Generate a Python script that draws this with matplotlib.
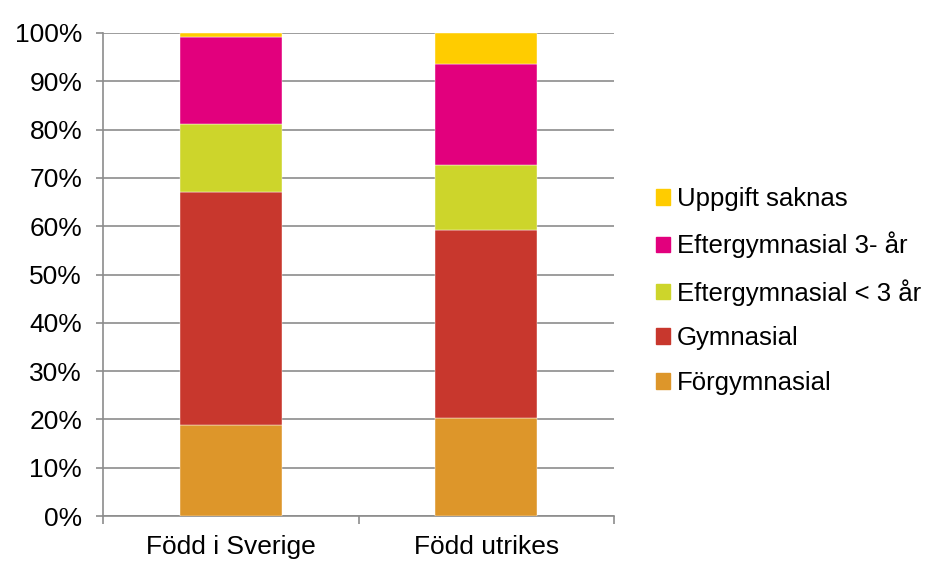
import numpy as np
import matplotlib.pyplot as plt
from matplotlib.patches import Patch

plt.rcParams['font.family'] = ['Liberation Sans', 'DejaVu Sans']

categories = ['Född i Sverige', 'Född utrikes']
series = ['Förgymnasial', 'Gymnasial', 'Eftergymnasial < 3 år',
          'Eftergymnasial 3- år', 'Uppgift saknas']
forgymnasial = [18.8, 20.2]
gymnasial = [48.3, 39.1]
efter_kort = [14.0, 13.4]
efter_lang = [18.1, 20.9]
saknas = [0.8, 6.4]
colors = ['#DD962A', '#C8372D', '#CDD52B', '#E2007D', '#FFCC00']

values = [forgymnasial, gymnasial, efter_kort, efter_lang, saknas]
fs = 19

fig = plt.figure(figsize=(9.31, 5.61), dpi=100)
ax = fig.add_axes([103 / 931, 1 - 516 / 561, 511 / 931, 483 / 561])

x = np.arange(len(categories))
bottom = np.zeros(len(categories))
for name, vals, c in zip(series, values, colors):
    ax.bar(x, vals, width=0.4, bottom=bottom, color=c, label=name,
           edgecolor='white', linewidth=0.3, zorder=3)
    bottom += np.array(vals)

ax.set_xlim(-0.5, 1.5)
ax.set_ylim(0, 100)
ax.set_yticks(np.arange(0, 101, 10))
ax.set_yticklabels([f'{v}%' for v in range(0, 101, 10)])
ax.yaxis.grid(True, color='#8c8c8c', linewidth=1.2, zorder=0)
ax.set_xticks(x)
ax.set_xticklabels(categories)
ax.set_xticks([-0.5, 0.5, 1.5], minor=True)
ax.tick_params(axis='x', which='major', length=0, pad=14)
ax.tick_params(axis='x', which='minor', length=6, color='#8c8c8c', width=1.2)
ax.tick_params(axis='y', length=5, color='#8c8c8c', width=1.2, pad=10)
ax.tick_params(labelsize=fs)
for s in ['top', 'right']:
    ax.spines[s].set_visible(False)
for s in ['left', 'bottom']:
    ax.spines[s].set_color('#8c8c8c')
    ax.spines[s].set_linewidth(1.2)

handles = [Patch(color=c, label=n) for n, c in zip(series, colors)][::-1]
fig.legend(handles=handles, loc='center left', bbox_to_anchor=(656 / 931, 1 - 291 / 561),
           frameon=False, fontsize=18.5, handlelength=0.56, handleheight=0.56,
           handletextpad=0.25, labelspacing=0.8, borderaxespad=0, borderpad=0)

fig.savefig('out.png', dpi=100)
